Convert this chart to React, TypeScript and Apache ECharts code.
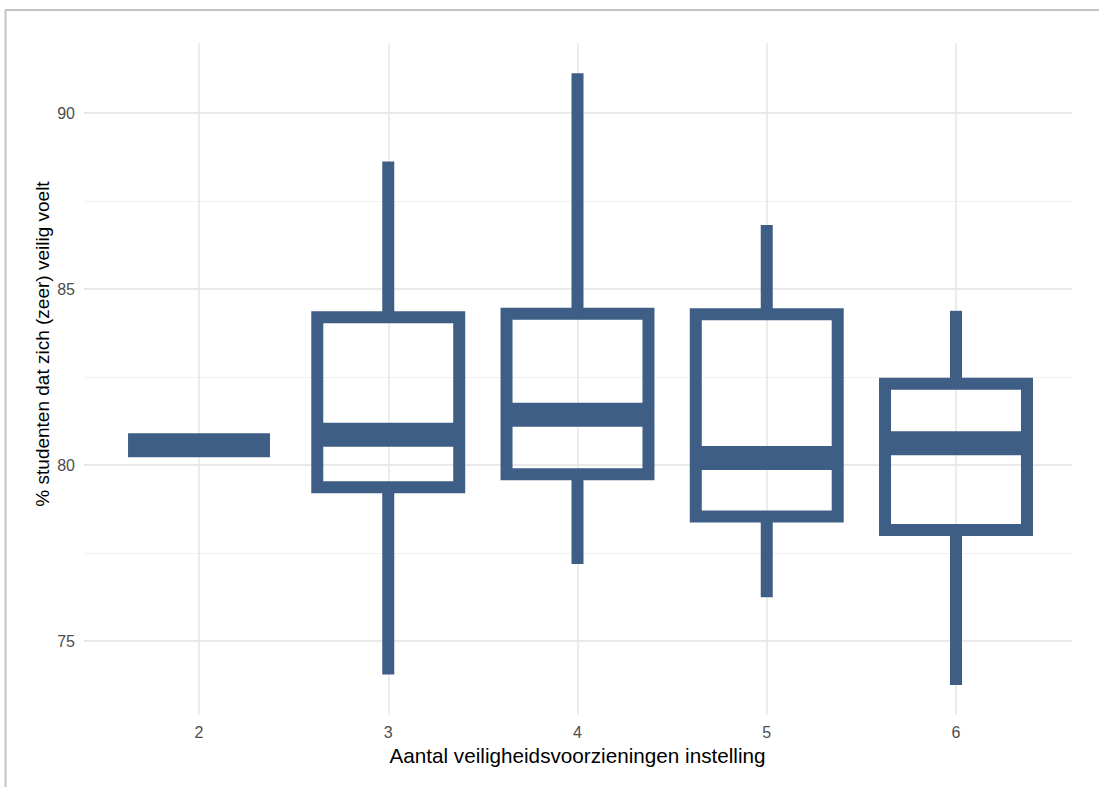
import React, { useEffect, useRef } from "react";
import * as echarts from "echarts";

// Categories: number of safety provisions at the institution
const categories = ["2", "3", "4", "5", "6"];
// Box plot statistics (% students who feel (very) safe)
const lowerWhisker = [80.56, 74.05, 77.19, 76.24, 73.75];
const q1Values = [80.56, 79.37, 79.74, 78.54, 78.15];
const medianValues = [80.56, 80.86, 81.43, 80.2, 80.62];
const q3Values = [80.56, 84.2, 84.3, 84.28, 82.31];
const upperWhisker = [80.56, 88.62, 91.13, 86.82, 84.38];
// Y tick labels
const yTicks = [75, 80, 85, 90];

const xTitle = "Aantal veiligheidsvoorzieningen instelling";
const yTitle = "% studenten dat zich (zeer) veilig voelt";

const BOX_COLOR = "#3e5e85";
const FONT = "'Liberation Sans', Arial, Helvetica, sans-serif";

export default function App() {
  const ref = useRef<HTMLDivElement>(null);

  useEffect(() => {
    if (!ref.current) return;
    const chart = echarts.init(ref.current, null, { renderer: "svg" });

    // Panel geometry (pixels)
    const W = 1099;
    const H = 787;
    const panelLeft = 84;
    const panelRight = 1072;
    const panelTop = 43;
    const panelBottom = 715;
    const tickTopPx = 113; // y of 90
    const tickBottomPx = 641; // y of 75
    const yLo = yTicks[0];
    const yHi = yTicks[yTicks.length - 1];
    const pxPerUnit = (tickBottomPx - tickTopPx) / (yHi - yLo);
    const dataMin = yLo - (panelBottom - tickBottomPx) / pxPerUnit;
    const dataMax = yHi + (tickTopPx - panelTop) / pxPerUnit;

    const rows = categories.map((c, i) => [
      i,
      lowerWhisker[i],
      q1Values[i],
      medianValues[i],
      q3Values[i],
      upperWhisker[i],
    ]);

    const option: any = {
      animation: false,
      backgroundColor: "#ffffff",
      textStyle: { fontFamily: FONT },
      graphic: [
        {
          type: "line",
          shape: { x1: 5, y1: 10, x2: W, y2: 10 },
          style: { stroke: "#c4c4c4", lineWidth: 2 },
          silent: true,
        },
        {
          type: "line",
          shape: { x1: 5.5, y1: 10, x2: 5.5, y2: H },
          style: { stroke: "#c4c4c4", lineWidth: 2 },
          silent: true,
        },
        {
          type: "text",
          x: 42,
          y: 344,
          rotation: Math.PI / 2,
          silent: true,
          style: {
            text: yTitle,
            fill: "#000000",
            font: "19px " + FONT,
            align: "center",
            verticalAlign: "middle",
          },
        },
      ],
      grid: [
        // data grid: category positions 2..6 on its left/right edges
        {
          left: 199,
          right: W - 956,
          top: panelTop,
          bottom: H - panelBottom,
          containLabel: false,
        },
        // horizontal gridline / y-label grid
        {
          left: panelLeft,
          right: W - panelRight,
          top: tickTopPx,
          bottom: H - tickBottomPx,
          containLabel: false,
        },
      ],
      xAxis: [
        {
          gridIndex: 0,
          type: "category",
          data: categories,
          boundaryGap: false,
          axisLine: { show: false },
          axisTick: { show: false },
          axisLabel: {
            color: "#4d4d4d",
            fontSize: 16,
            margin: 9,
            fontFamily: FONT,
          },
          splitLine: {
            show: true,
            lineStyle: { color: "#e6e6e6", width: 1.5 },
          },
          name: xTitle,
          nameLocation: "middle",
          nameGap: 24,
          nameTextStyle: { color: "#000000", fontSize: 20.7, fontFamily: FONT },
        },
        {
          gridIndex: 1,
          type: "value",
          show: false,
          min: 0,
          max: 1,
        },
      ],
      yAxis: [
        {
          gridIndex: 0,
          type: "value",
          min: dataMin,
          max: dataMax,
          show: true,
          axisLine: { show: false },
          axisTick: { show: false },
          axisLabel: { show: false },
          splitLine: { show: false },
        },
        {
          gridIndex: 1,
          type: "value",
          min: yLo,
          max: yHi,
          interval: 5,
          axisLine: { show: false },
          axisTick: { show: false },
          axisLabel: {
            color: "#4d4d4d",
            fontSize: 16,
            margin: 9,
            fontFamily: FONT,
          },
          splitLine: {
            show: true,
            lineStyle: { color: "#e2e2e2", width: 1.6 },
          },
          minorTick: { show: false, splitNumber: 2 },
          minorSplitLine: {
            show: true,
            lineStyle: { color: "#f0f0f0", width: 1 },
          },
        },
      ],
      series: [
        {
          type: "custom",
          xAxisIndex: 0,
          yAxisIndex: 0,
          data: rows,
          encode: { x: 0, y: [1, 2, 3, 4, 5] },
          clip: false,
          renderItem: (params: any, api: any) => {
            const idx = api.value(0);
            const pLo = api.coord([idx, api.value(1)]);
            const pQ1 = api.coord([idx, api.value(2)]);
            const pMed = api.coord([idx, api.value(3)]);
            const pQ3 = api.coord([idx, api.value(4)]);
            const pHi = api.coord([idx, api.value(5)]);
            const band = api.size([1, 0])[0];
            const half = (band * 0.75) / 2;
            const cx = pMed[0];
            const children: any[] = [];
            if (pHi[1] < pQ3[1]) {
              children.push({
                type: "line",
                shape: { x1: cx, y1: pQ3[1], x2: cx, y2: pHi[1] },
                style: { stroke: BOX_COLOR, lineWidth: 12, lineCap: "butt" },
              });
            }
            if (pLo[1] > pQ1[1]) {
              children.push({
                type: "line",
                shape: { x1: cx, y1: pQ1[1], x2: cx, y2: pLo[1] },
                style: { stroke: BOX_COLOR, lineWidth: 12, lineCap: "butt" },
              });
            }
            if (pQ1[1] - pQ3[1] > 0.5) {
              children.push({
                type: "rect",
                shape: {
                  x: cx - half,
                  y: pQ3[1],
                  width: half * 2,
                  height: pQ1[1] - pQ3[1],
                },
                style: {
                  fill: "none",
                  stroke: BOX_COLOR,
                  lineWidth: 12,
                  lineJoin: "miter",
                },
              });
            }
            children.push({
              type: "line",
              shape: { x1: cx - half, y1: pMed[1], x2: cx + half, y2: pMed[1] },
              style: { stroke: BOX_COLOR, lineWidth: 24, lineCap: "butt" },
            });
            return { type: "group", children };
          },
        },
      ],
    };

    chart.setOption(option);
    return () => {
      chart.dispose();
    };
  }, []);

  return (
    <div
      ref={ref}
      style={{
        position: "fixed",
        left: 0,
        top: 0,
        width: 1099,
        height: 787,
        background: "#ffffff",
      }}
    />
  );
}
